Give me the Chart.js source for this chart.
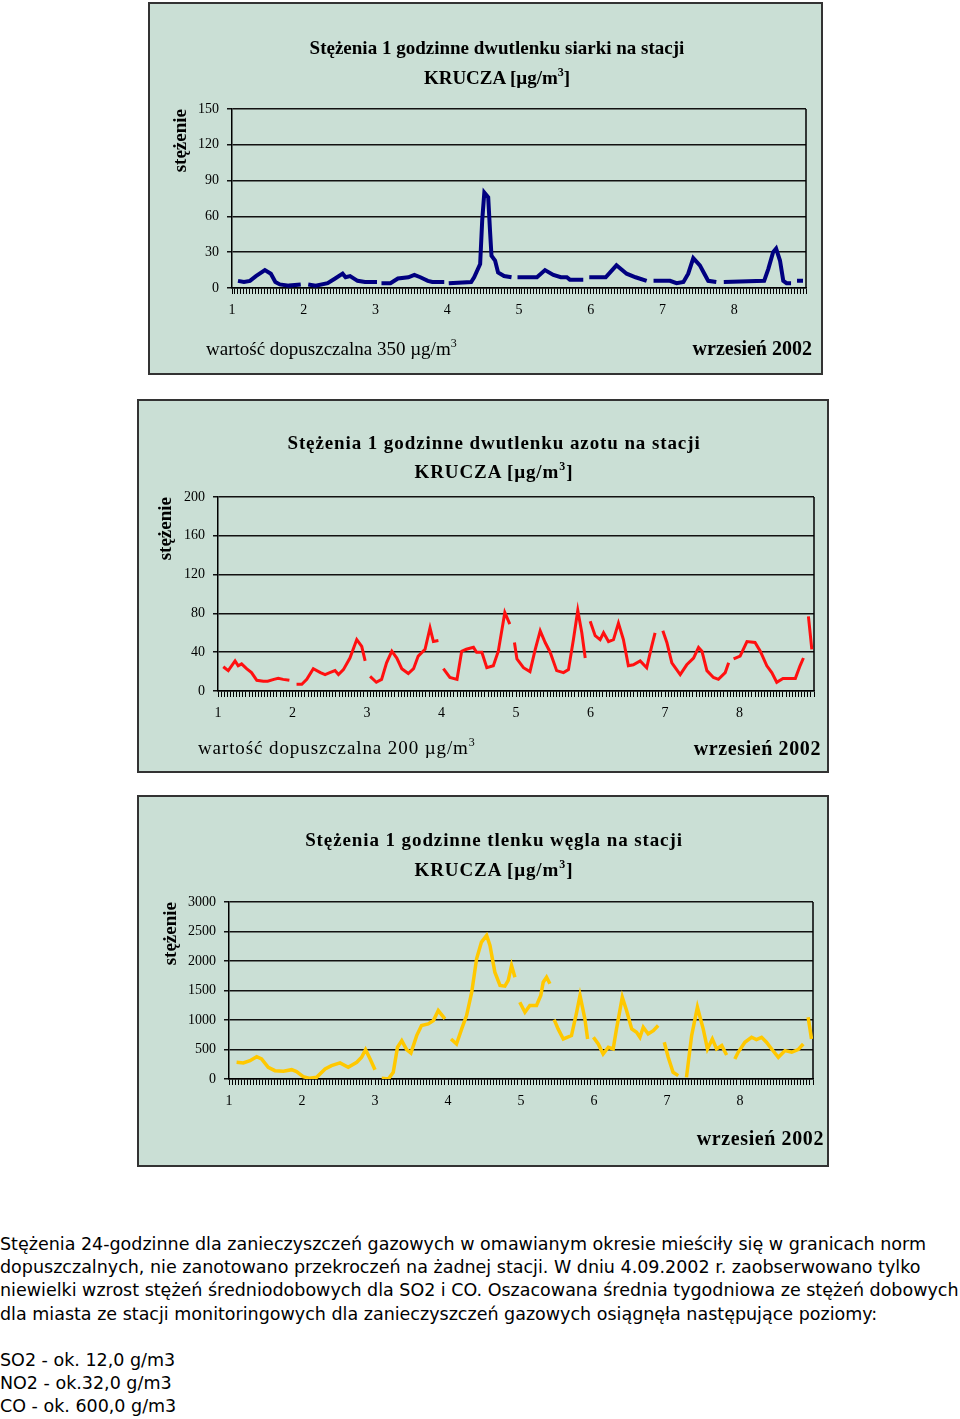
<!DOCTYPE html>
<html lang="pl">
<head>
<meta charset="utf-8">
<script src="https://cdn.jsdelivr.net/npm/chart.js@4.4.1/dist/chart.umd.min.js"></script>
<style>
  body { margin: 0; width: 960px; height: 1419px; background: #fff; position: relative; overflow: hidden; }
  .box { position: absolute; box-sizing: border-box; border: 2px solid #333; background: #cadfd5;
         font-family: "Liberation Serif", "Times New Roman", serif; color: #000; }
  .box canvas { position: absolute; left: 0; top: 0; }
  .ttl { position: absolute; width: 600px; text-align: center; font-weight: bold; font-size: 19px;
         line-height: 20px; white-space: nowrap; }
  .note { position: absolute; font-size: 19px; line-height: 20px; white-space: nowrap; }
  .note.b { font-weight: bold; font-size: 20px; }
  sup { font-size: 12px; vertical-align: 8px; line-height: 0; }
  .txt { position: absolute; left: 0; top: 1233px; font-family: "DejaVu Sans", sans-serif; font-size: 17.5px;
         line-height: 23.2px; white-space: nowrap; color: #000; }
</style>
</head>
<body>

<div class="box" style="left:148px; top:2px; width:675px; height:373px;">
  <canvas id="so2" width="671" height="369"></canvas>
  <div class="ttl" style="left:47px; top:34px;">Stężenia 1 godzinne dwutlenku siarki na stacji</div>
  <div class="ttl" style="left:47px; top:64px;">KRUCZA [µg/m<sup>3</sup>]</div>
  <div class="note" style="left:56px; top:335px;">wartość dopuszczalna 350 µg/m<sup>3</sup></div>
  <div class="note b" style="right:9px; top:334px;">wrzesień 2002</div>
</div>

<div class="box" style="left:137px; top:399px; width:692px; height:374px;">
  <canvas id="no2" width="688" height="370"></canvas>
  <div class="ttl" style="left:55px; top:32px; letter-spacing:0.9px;">Stężenia 1 godzinne dwutlenku azotu na stacji</div>
  <div class="ttl" style="left:55px; top:61px; letter-spacing:0.9px;">KRUCZA [µg/m<sup>3</sup>]</div>
  <div class="note" style="left:59px; top:337px; letter-spacing:0.9px;">wartość dopuszczalna 200 µg/m<sup>3</sup></div>
  <div class="note b" style="right:6px; top:337px; letter-spacing:0.6px;">wrzesień 2002</div>
</div>

<div class="box" style="left:137px; top:795px; width:692px; height:372px;">
  <canvas id="co" width="688" height="368"></canvas>
  <div class="ttl" style="left:55px; top:33px; letter-spacing:0.9px;">Stężenia 1 godzinne tlenku węgla na stacji</div>
  <div class="ttl" style="left:55px; top:63px; letter-spacing:0.9px;">KRUCZA [µg/m<sup>3</sup>]</div>
  <div class="note b" style="right:3px; top:331px; letter-spacing:0.6px;">wrzesień 2002</div>
</div>

<div class="txt">Stężenia 24-godzinne dla zanieczyszczeń gazowych w omawianym okresie mieściły się w granicach norm<br>dopuszczalnych, nie zanotowano przekroczeń na żadnej stacji. W dniu 4.09.2002 r. zaobserwowano tylko<br>niewielki wzrost stężeń średniodobowych dla SO2 i CO. Oszacowana średnia tygodniowa ze stężeń dobowych<br>dla miasta ze stacji monitoringowych dla zanieczyszczeń gazowych osiągnęła następujące poziomy:<br><br>SO2 - ok. 12,0 g/m3<br>NO2 - ok.32,0 g/m3<br>CO - ok. 600,0 g/m3</div>

<script>
// godziny od poczatku 1 wrzesnia (0 = dzien 1, 24 = dzien 2 ...), null = brak pomiaru
var dayLabels = ['1', '2', '3', '4', '5', '6', '7', '8'];

var so2Hours = [2,4,6,8,11,13,14.5,16,19,23,24,
  25.5,28,32,34.5,37,38,39.5,42,44.5,48.5,49,
  50,53,55.5,59,61,63,65.5,67,71,72,
  72.5,80,81,83,83.7,84.4,85.7,86.3,86.8,88,89,91,93.5,94.5,
  95.5,102,104.7,107.5,110,112,113,117.5,118.5,
  119.5,125,128.6,132,135,138.7,139.5,
  141,146.5,148.7,151,152.6,154.3,156.5,158,159.3,162,163,
  164.5,178,179.4,181,182,183.3,184.4,185.5,187,188,
  189,191];
var so2Values = [6,5,6,10,15,12,5,3,2,3,null,
  3,2,4,8,12,9,10,6,5,5,null,
  4,4,8,9,11,9,6,5,5,null,
  4,5,9,20,57,80,76,48,27,23,13,10,9,null,
  9,9,15,11,9,9,7,7,null,
  9,9,19,12,9,6,null,
  6,6,4,5,12,25,19,12,6,5,null,
  5,6,16,30,33,23,6,4,4,null,
  6,6];

var no2Hours = [1.7,3.3,5.5,6.5,7.6,9.2,10.8,12.5,14.6,16,18,19.4,21,23,24,
  25.3,27,28.6,30.7,33,34.5,36,37.7,38.8,40.4,42.5,44.7,46.3,47.4,48.2,
  49,51,52.7,54.3,56,57.6,59.2,61.3,63,64.5,66.7,68.3,69.4,71,71.8,
  72.6,74.7,77,78.5,80,82.3,83.3,85,86.6,88.7,90.3,92.4,94,94.8,
  95.5,96.3,98.4,100.5,102.2,103.8,105.4,107,109.1,111.3,112.9,114.5,115.9,117.2,118.3,119.1,
  119.9,121.5,123.1,124.2,125.8,127.4,129,130.6,132.2,133.8,136,138.1,139.7,140.8,142,
  143.3,144.6,146.2,148.9,151,153.2,154.8,155.9,157.5,159.6,161.2,163.4,164.5,165.3,
  166.1,168.2,170.4,173,174.7,176.8,178.4,180,182,186,187.5,188.6,189.4,
  190.2,191.3];
var no2Values = [25,21,31,26,28,23,19,11,10,10,12,13,12,11,null,
  7,7,12,23,19,17,19,21,17,22,34,53,46,31,null,
  15,9,12,29,41,34,23,18,23,36,43,65,51,52,null,
  23,14,12,41,43,45,40,40,24,26,41,81,69,null,
  50,33,24,20,43,62,50,40,21,19,22,53,83,60,34,null,
  72,57,53,60,51,53,70,53,26,27,31,24,46,60,null,
  62,50,29,17,27,34,45,41,21,14,12,19,29,null,
  33,36,51,50,41,26,19,9,13,13,26,34,null,
  77,43];

var coHours = [2.5,4.7,6.9,9.1,10.7,12.9,15.1,17.9,20.6,22.2,24.4,26.6,28.8,31.6,33.7,36.5,39.2,42,43.6,44.9,46.4,48,48.8,
  50.2,52.4,54,55.4,56.8,58.4,59.8,61.7,63.3,65.5,67.2,68.8,71,72,
  73,74.8,76.5,78.1,79.8,81.4,83,84.7,85.8,87.4,89.1,90.7,91.8,92.9,94,94.8,
  95.6,97.3,98.9,101.1,102.5,103.3,104.4,105.5,106.2,
  106.9,108.2,109.9,112.6,114.3,115.4,117,117.9,118.8,
  119.8,121.4,123,124.7,126.3,127.4,129.3,130.7,132.4,134,135.1,136.2,137.8,139.5,141.1,142,
  143.1,144.4,146,147.7,149,
  150.4,152.1,154,155.9,157.3,158.9,160.3,162,163.6,165,
  166.3,167.4,169.6,171.8,173.4,175.1,176.7,178.4,180.6,182.8,185,187.1,188.8,189.6,
  190.4,191.5];
var coValues = [283,272,311,379,340,198,141,130,158,125,40,11,28,170,226,272,198,283,368,498,340,158,null,
  11,0,113,538,651,498,441,736,906,934,990,1160,1019,null,
  679,594,849,1075,1472,2038,2321,2434,2264,1811,1585,1573,1670,1924,1726,null,
  1302,1132,1245,1245,1415,1641,1726,1613,null,
  1007,849,679,736,1132,1415,1019,679,null,
  707,594,424,538,509,849,1387,1160,849,792,707,877,764,820,906,null,
  623,368,113,57,null,
  28,736,1217,849,509,679,509,566,407,null,
  340,453,623,707,668,707,623,509,368,481,453,498,594,null,
  1047,679];

// ramka po prawej stronie wykresu
const plotFrame = {
  id: 'plotFrame',
  beforeDatasetsDraw(chart) {
    const ctx = chart.ctx, a = chart.chartArea;
    ctx.save();
    ctx.strokeStyle = '#000';
    ctx.lineWidth = 1.5;
    ctx.beginPath();
    ctx.moveTo(a.right, a.top);
    ctx.lineTo(a.right, a.bottom);
    ctx.stroke();
    ctx.restore();
  }
};

function points(hours, values) {
  var pts = [];
  for (var i = 0; i < hours.length; i++) {
    pts.push({x: hours[i], y: values[i]});
  }
  return pts;
}

function makeChart(id, o) {
  var serif = 'Liberation Serif, Times New Roman, serif';
  return new Chart(document.getElementById(id), {
    type: 'line',
    data: {
      datasets: [{
        data: points(o.hours, o.values),
        borderColor: o.color,
        borderWidth: o.lineWidth,
        pointRadius: 0,
        tension: 0,
        spanGaps: false
      }]
    },
    plugins: [plotFrame],
    options: {
      responsive: false,
      animation: false,
      events: [],
      layout: { padding: { left: 0, top: o.top, right: o.right, bottom: o.bottom } },
      plugins: { legend: { display: false }, title: { display: false }, tooltip: { enabled: false } },
      scales: {
        x: {
          type: 'linear',
          min: 0,
          max: 192,
          afterFit: function(s) { s.height = 30; },
          border: { display: true, color: '#000', width: 1.5 },
          grid: { drawOnChartArea: false, drawTicks: true, tickLength: 6, color: '#000', lineWidth: 1 },
          ticks: {
            stepSize: 1,
            autoSkip: false,
            maxRotation: 0,
            minRotation: 0,
            padding: 8,
            color: '#000',
            font: { family: serif, size: 14 },
            callback: function(v) { return (v % 24 === 0 && v < 192) ? dayLabels[v / 24] : ''; }
          }
        },
        y: {
          min: 0,
          max: o.yMax,
          afterFit: function(s) { s.width = o.axisWidth; },
          border: { display: true, color: '#000', width: 1.5 },
          grid: { color: '#111', lineWidth: 1.5, tickLength: 5 },
          ticks: {
            stepSize: o.yStep,
            padding: 8,
            color: '#000',
            font: { family: serif, size: 14 },
            callback: function(v) { return String(v); }
          },
          title: {
            display: true,
            text: 'stężenie',
            align: 'end',
            color: '#000',
            font: { family: serif, size: 19, weight: 'bold' },
            padding: { top: o.titlePad, bottom: 0 }
          }
        }
      }
    }
  });
}

makeChart('so2', { hours: so2Hours, values: so2Values, color: '#000080', lineWidth: 4,
  yMax: 150, yStep: 30, axisWidth: 82, top: 105, right: 15, bottom: 55, titlePad: 20 });
makeChart('no2', { hours: no2Hours, values: no2Values, color: '#ff1010', lineWidth: 3,
  yMax: 200, yStep: 40, axisWidth: 79, top: 96, right: 13, bottom: 50, titlePad: 16 });
makeChart('co', { hours: coHours, values: coValues, color: '#ffc800', lineWidth: 3.5,
  yMax: 3000, yStep: 500, axisWidth: 90, top: 105, right: 14, bottom: 56, titlePad: 21 });
</script>
</body>
</html>
